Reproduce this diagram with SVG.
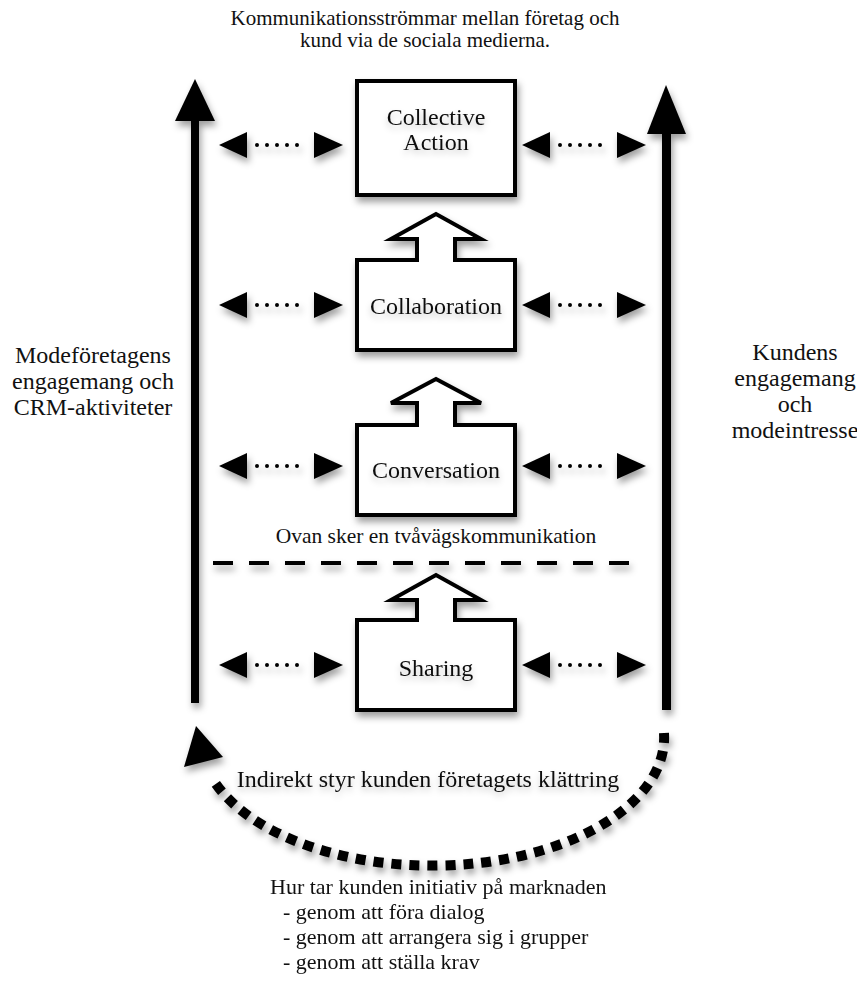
<svg xmlns="http://www.w3.org/2000/svg" xmlns:xlink="http://www.w3.org/1999/xlink" width="857" height="987" viewBox="0 0 857 987">
  <style>
    text { font-family: "Liberation Serif", "Times New Roman", serif; fill: #111; }
    .lbl { font-size: 24px; text-anchor: middle; }
    .note { font-size: 21px; text-anchor: middle; }
    .list { font-size: 22px; }
    .box { fill: #fff; stroke: #000; stroke-width: 4; stroke-linejoin: miter; }
    .solid { fill: #000; }
    .dots { stroke: #000; stroke-width: 4; stroke-linecap: round; stroke-dasharray: 0 10; fill: none; }
    .dash { stroke: #000; stroke-width: 4; stroke-dasharray: 20 16; fill: none; }
    .loop { stroke: #000; stroke-width: 10; stroke-dasharray: 10 8; fill: none; }
  </style>
  <defs>
    <filter id="shadow" x="-20%" y="-20%" width="140%" height="150%">
      <feDropShadow dx="2" dy="5" stdDeviation="3.5" flood-color="#000" flood-opacity="0.38"/>
    </filter>
    <filter id="tshadow" x="-10%" y="-30%" width="120%" height="180%">
      <feDropShadow dx="0" dy="4" stdDeviation="3" flood-color="#000" flood-opacity="0.22"/>
    </filter>
    <!-- two-way dotted arrow, left tip at the origin -->
    <g id="twoway">
      <polygon class="solid" points="0,0 28,-13 28,13"/>
      <line class="dots" x1="38" y1="0" x2="88" y2="0"/>
      <polygon class="solid" points="124,0 95,-13 95,13"/>
    </g>
  </defs>

  <rect width="857" height="987" fill="#fff"/>

  <!-- heading -->
  <g id="title">
    <text class="note" x="425" y="25">Kommunikationsströmmar mellan företag och</text>
    <text class="note" x="425" y="47">kund via de sociala medierna.</text>
  </g>

  <!-- company side axis -->
  <g id="company-axis" filter="url(#shadow)">
    <rect class="solid" x="191" y="115" width="8" height="588"/>
    <polygon class="solid" points="195,79 215,121 175,121"/>
  </g>
  <g id="company-label">
    <text class="lbl" x="93" y="363">Modeföretagens</text>
    <text class="lbl" x="93" y="389">engagemang och</text>
    <text class="lbl" x="93" y="415">CRM-aktiviteter</text>
  </g>

  <!-- customer side axis -->
  <g id="customer-axis" filter="url(#shadow)">
    <rect class="solid" x="662" y="128" width="9" height="582"/>
    <polygon class="solid" points="666,85 686,134 647,134"/>
  </g>
  <g id="customer-label">
    <text class="lbl" x="795" y="360">Kundens</text>
    <text class="lbl" x="795" y="386">engagemang</text>
    <text class="lbl" x="795" y="412">och</text>
    <text class="lbl" x="795" y="438">modeintresse</text>
  </g>

  <!-- levels -->
  <g id="collective-action">
    <rect class="box" x="357" y="81" width="158" height="114" filter="url(#shadow)"/>
    <g filter="url(#tshadow)">
      <text class="lbl" x="436" y="125">Collective</text>
      <text class="lbl" x="436" y="150">Action</text>
    </g>
  </g>

  <g id="collaboration">
    <path class="box" filter="url(#shadow)" d="M357,260 H417 V239 H391 L436,214 L481,239 H455 V260 H515 V350 H357 Z"/>
    <text class="lbl" x="436" y="314" filter="url(#tshadow)">Collaboration</text>
  </g>

  <g id="conversation">
    <path class="box" filter="url(#shadow)" d="M357,425 H417 V403 H391 L436,379 L481,403 H455 V425 H515 V515 H357 Z"/>
    <text class="lbl" x="436" y="478" filter="url(#tshadow)">Conversation</text>
  </g>

  <g id="sharing">
    <path class="box" filter="url(#shadow)" d="M357,620 H417 V600 H391 L436,575 L481,600 H455 V620 H515 V710 H357 Z"/>
    <text class="lbl" x="436" y="676" filter="url(#tshadow)">Sharing</text>
  </g>

  <g id="two-way-note">
    <text class="note" x="436" y="543" style="font-size:21.5px">Ovan sker en tvåvägskommunikation</text>
  </g>

  <!-- connectors -->
  <g id="connectors" filter="url(#shadow)">
    <use xlink:href="#twoway" x="219" y="145"/>
    <use xlink:href="#twoway" x="522" y="145"/>
    <use xlink:href="#twoway" x="219" y="305"/>
    <use xlink:href="#twoway" x="522" y="305"/>
    <use xlink:href="#twoway" x="219" y="466"/>
    <use xlink:href="#twoway" x="522" y="466"/>
    <use xlink:href="#twoway" x="219" y="665"/>
    <use xlink:href="#twoway" x="522" y="665"/>
    <line class="dash" x1="213" y1="563" x2="629" y2="563"/>
    <path class="loop" d="M664,733 A232,128 0 0 1 212,778"/>
    <polygon class="solid" points="196,726 223,757 184,767"/>
  </g>

  <g id="loop-label">
    <text class="lbl" x="428" y="787" filter="url(#tshadow)">Indirekt styr kunden företagets klättring</text>
  </g>

  <g id="initiative-list">
    <text class="list" x="270" y="894">Hur tar kunden initiativ på marknaden</text>
    <text class="list" x="283" y="919">- genom att föra dialog</text>
    <text class="list" x="283" y="944">- genom att arrangera sig i grupper</text>
    <text class="list" x="283" y="969">- genom att ställa krav</text>
  </g>
</svg>
